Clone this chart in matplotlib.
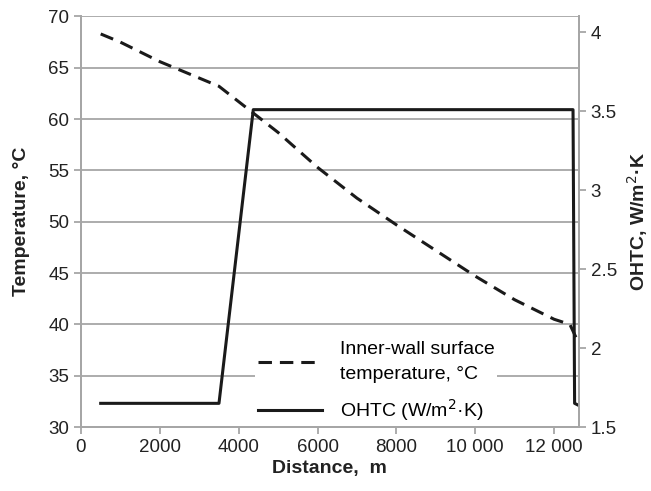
import matplotlib
matplotlib.use("Agg")
import matplotlib.pyplot as plt

plt.rcParams["font.family"] = ["Liberation Sans", "DejaVu Sans"]

# inner-wall surface temperature along the line
dist_t = [500, 1000, 2000, 3000, 3500, 4000, 4500, 5000, 6000, 7000, 8000,
          9000, 10000, 11000, 12000, 12400, 12620]
temp = [68.3, 67.5, 65.6, 64.0, 63.2, 61.7, 60.2, 58.7, 55.3, 52.3, 49.7,
        47.2, 44.7, 42.4, 40.5, 40.0, 38.2]

# overall heat transfer coefficient
dist_h = [500, 3500, 4370, 12480, 12520, 12600]
ohtc = [1.65, 1.65, 3.51, 3.51, 1.65, 1.64]

GRID = "#a6a6a6"
INK = "#1a1a1a"
TXT = "#222222"

fig = plt.figure(figsize=(6.51, 4.91), dpi=100)
ax = fig.add_axes([0.1244, 0.1303, 0.7646, 0.8361])
ax2 = ax.twinx()

ax.plot(dist_t, temp, color=INK, lw=2.2, dashes=(4.4, 2.6),
        label="Inner-wall surface\ntemperature, °C")
ax2.plot(dist_h, ohtc, color=INK, lw=2.2, label="OHTC (W/m$^2$·K)")

ax.set_xlim(0, 12625)
ax.set_ylim(30, 70)
ax2.set_ylim(1.5, 4.1)
ax.set_xticks([0, 2000, 4000, 6000, 8000, 10000, 12000],
              ["0", "2000", "4000", "6000", "8000", "10 000", "12 000"])
ax.set_yticks(range(30, 71, 5))
ax2.set_yticks([1.5, 2, 2.5, 3, 3.5, 4], ["1.5", "2", "2.5", "3", "3.5", "4"])

ax.grid(axis="y", color=GRID, lw=1.3)
ax.set_axisbelow(True)
for a in (ax, ax2):
    for side in ("left", "right", "bottom"):
        a.spines[side].set_color(GRID)
        a.spines[side].set_linewidth(1.3)
    a.spines["top"].set_visible(False)
    a.tick_params(colors=GRID, labelcolor=TXT, labelsize=13.5, width=1.3, length=5)

ax.set_xlabel("Distance,  m", fontsize=14, fontweight="bold", color=TXT, labelpad=3)
ax.set_ylabel("Temperature, °C", fontsize=14, fontweight="bold", color=TXT, labelpad=13)
ax2.set_ylabel("OHTC, W/m$^2$·K", fontsize=14, fontweight="bold", color=TXT, labelpad=6)

# legend lives on the lower axes so the twin axes' spine is drawn over its box
h1, l1 = ax.get_legend_handles_labels()
h2, l2 = ax2.get_legend_handles_labels()
leg = ax.legend(h1 + h2, l1 + l2, loc="lower left", bbox_to_anchor=(0.33, -0.02),
                frameon=True, fontsize=14, handlelength=3.3, labelspacing=0.7,
                borderpad=0.15, handletextpad=0.9)
for t in leg.get_texts():
    t.set_linespacing(1.65)
leg.get_frame().set_edgecolor("none")
leg.get_frame().set_facecolor("white")
leg.get_frame().set_alpha(1)

fig.savefig("out.png", dpi=100)
